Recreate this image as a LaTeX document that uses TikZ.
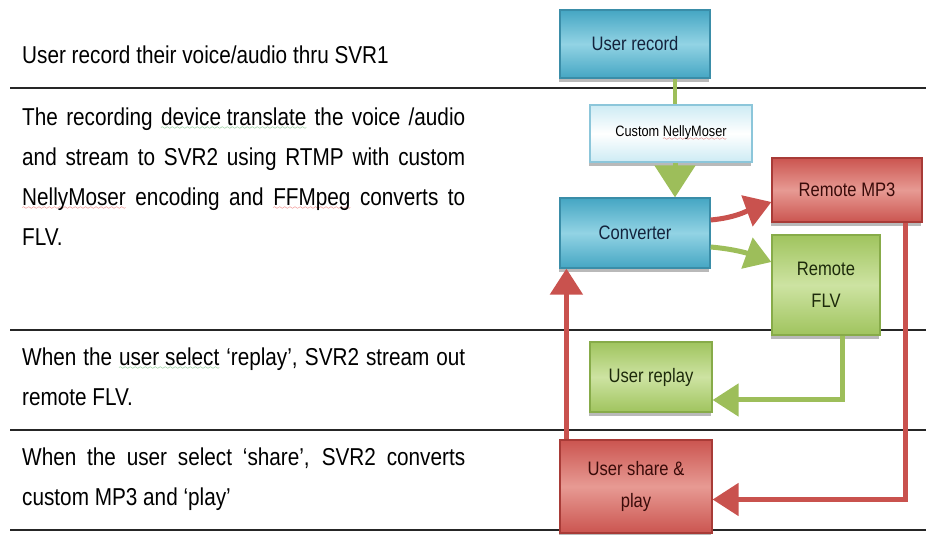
\documentclass[tikz,border=0pt]{standalone}
\usepackage{fontspec}
\setmainfont{Liberation Sans}[FakeStretch=0.85]
\usepackage{xcolor}
\usetikzlibrary{arrows.meta,shadows}

\definecolor{bluedark}{HTML}{45A6C3}
\definecolor{bluelight}{HTML}{92D3E4}
\definecolor{blueedge}{HTML}{3A8DA8}
\definecolor{bluetext}{HTML}{13223C}
\definecolor{paleedge}{HTML}{8CC6DA}
\definecolor{palefill}{HTML}{CDEBF4}
\definecolor{reddark}{HTML}{CB5550}
\definecolor{redlight}{HTML}{E79A93}
\definecolor{rededge}{HTML}{A83B37}
\definecolor{redtext}{HTML}{3A0B09}
\definecolor{greendark}{HTML}{A0C45E}
\definecolor{greenlight}{HTML}{CDE3A2}
\definecolor{greenedge}{HTML}{87AB49}
\definecolor{greentext}{HTML}{1D2A0B}
\definecolor{arrred}{HTML}{C9524E}
\definecolor{arrgreen}{HTML}{9DBE5A}
\definecolor{spellred}{HTML}{E0201C}
\definecolor{spellgreen}{HTML}{2E9E3A}

\hyphenpenalty=10000
\tolerance=9999

% spell-check squiggles
\font\spellfont=lasy6
\newsavebox{\spellbox}
\newcommand{\spellmark}[2]{\sbox{\spellbox}{#2}%
  \rlap{\lower4pt\hbox to\wd\spellbox{\color{#1}\xleaders\hbox{\spellfont\char58}\hfill}}%
  \usebox{\spellbox}}
\newcommand{\spellred}{\spellmark{spellred}}
\newcommand{\spellgreen}{\spellmark{spellgreen}}

\begin{document}
\begin{tikzpicture}[x=1pt,y=1pt,
  tablerule/.style={line width=1.8pt,draw=black!85},
  desc/.style={anchor=base west,inner sep=0pt,text width=443pt,align=justify,
    font=\fontsize{24.4}{40}\selectfont},
  flowbox/.style={draw,line width=1.2pt,inner sep=2pt,align=center,
    font=\fontsize{19.5}{32}\selectfont,
    drop shadow={shadow xshift=-1pt,shadow yshift=-4pt,opacity=0.55}},
  bluebox/.style={flowbox,draw=blueedge,top color=bluedark,bottom color=bluedark,
    middle color=bluelight,text=bluetext},
  palebox/.style={flowbox,draw=paleedge,top color=palefill,bottom color=palefill,
    middle color=white,text=black,font=\fontsize{15}{20}\selectfont},
  redbox/.style={flowbox,draw=rededge,top color=reddark,bottom color=reddark,
    middle color=redlight,text=redtext},
  greenbox/.style={flowbox,draw=greenedge,top color=greendark,bottom color=greendark,
    middle color=greenlight,text=greentext},
  redarrow/.style={draw=arrred,line width=5pt,-{Triangle[width=32pt,length=26pt]}},
  greenarrow/.style={draw=arrgreen,line width=5pt,-{Triangle[width=32pt,length=26pt]}}]

  \useasboundingbox (0,0) rectangle (926,535);

  % Table rules
  \draw[tablerule] (10,447) -- (926,447);
  \draw[tablerule] (10,205) -- (926,205);
  \draw[tablerule] (10,105) -- (926,105);
  \draw[tablerule] (10,5) -- (926,5);

  % Left column
  \node[desc] (step1) at (22,471) {User record their voice/audio thru SVR1};
  \node[desc] (step2) at (22,409) {The recording \spellgreen{device translate} the voice /audio
    and stream to SVR2 using RTMP with custom \spellred{NellyMoser} encoding and
    \spellred{FFMpeg} converts to FLV.};
  \node[desc] (step3) at (22,169) {When the \spellgreen{user select} `replay', SVR2 stream out
    remote FLV.};
  \node[desc] (step4) at (22,69) {When the user select `share', SVR2 converts custom MP3
    and `play'};

  % Flow boxes
  \node[bluebox,minimum width=150pt,minimum height=68pt] (rec) at (635,491) {User record};
  \node[palebox,minimum width=162pt,minimum height=57pt] (nelly) at (671,401.5)
    {Custom \spellred{NellyMoser}};
  \node[bluebox,minimum width=150pt,minimum height=70pt] (conv) at (635,302) {Converter};
  \node[redbox,minimum width=150pt,minimum height=64pt] (mp3) at (847,345) {Remote MP3};
  \node[greenbox,minimum width=108pt,minimum height=100pt] (flv) at (826,250) {Remote\\FLV};
  \node[greenbox,minimum width=122pt,minimum height=70pt] (replay) at (651,158) {User replay};
  \node[redbox,minimum width=152pt,minimum height=93pt] (share) at (636,48.5)
    {User share \&\\play};

  % Connectors
  \draw[draw=arrgreen,line width=4pt] ([xshift=40pt]rec.south) -- ([xshift=40pt]rec.south |- nelly.north);
  \draw[draw=arrgreen,line width=5pt,-{Triangle[width=40pt,length=32pt]}]
    ([xshift=4pt]nelly.south) -- ([xshift=4pt]nelly.south |- conv.north);
  \draw[redarrow] ([yshift=13pt]conv.east) to[out=5,in=200] ([yshift=-12pt]mp3.west);
  \draw[greenarrow] ([yshift=-14pt]conv.east) to[out=-5,in=160] ([yshift=23pt]flv.west);
  \draw[greenarrow] ([xshift=16pt]flv.south) |- ([yshift=-23pt]replay.east);
  \draw[redarrow] ([xshift=-17pt]mp3.south east) |- ([yshift=-13pt]share.east);
  \draw[redarrow] ([xshift=7pt]share.north west) -- ([xshift=7pt]conv.south west);

\end{tikzpicture}
\end{document}
